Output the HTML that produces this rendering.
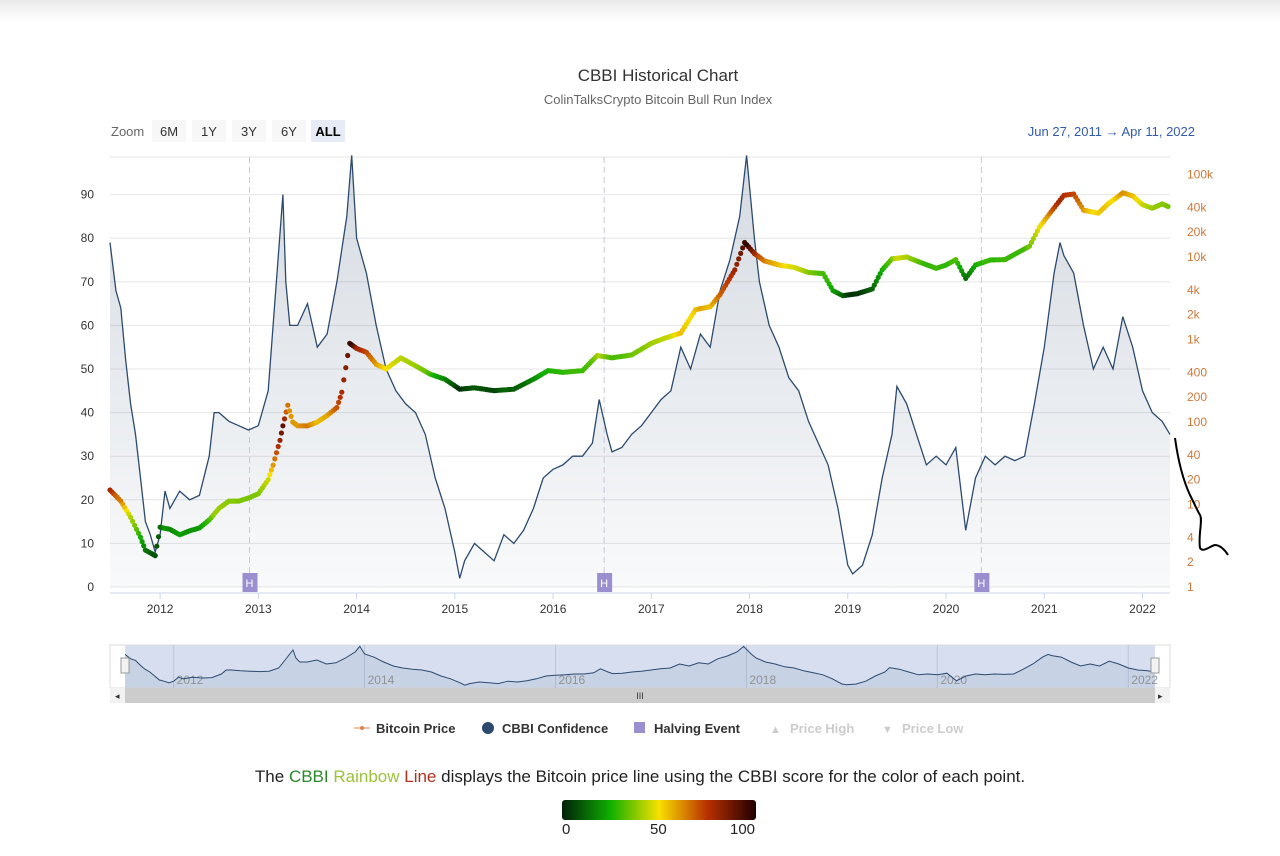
<!DOCTYPE html>
<html><head><meta charset="utf-8">
<style>
body{margin:0;width:1280px;height:856px;background:#fff;font-family:"Liberation Sans",sans-serif;overflow:hidden;position:relative}
.topshade{position:absolute;left:0;top:0;width:1280px;height:22px;background:linear-gradient(#e9e9e9,#fff)}
.caption{position:absolute;top:767px;left:0;width:1280px;text-align:center;font-size:17px;color:#222}
.bar{position:absolute;left:562px;top:800px;width:194px;height:20px;border-radius:3px;background:linear-gradient(90deg,#00200a,#10b000 25%,#f8e000 50%,#b83000 75%,#200000)}
.lbl{position:absolute;top:821px;font-size:15px;color:#222}
</style></head><body>
<div class="topshade"></div>
<svg id="chart" width="1280" height="760" style="position:absolute;left:0;top:0" font-family="Liberation Sans, sans-serif">
<text x="658" y="81" text-anchor="middle" font-size="17" fill="#333">CBBI Historical Chart</text>
<text x="658" y="104" text-anchor="middle" font-size="13" fill="#666">ColinTalksCrypto Bitcoin Bull Run Index</text>
<text x="111" y="136" font-size="13" fill="#666">Zoom</text>
<g><rect x="152" y="120" width="34" height="22" fill="#f7f7f7"/><text x="169" y="136" text-anchor="middle" font-size="13" fill="#333">6M</text></g>
<g><rect x="192" y="120" width="34" height="22" fill="#f7f7f7"/><text x="209" y="136" text-anchor="middle" font-size="13" fill="#333">1Y</text></g>
<g><rect x="232" y="120" width="34" height="22" fill="#f7f7f7"/><text x="249" y="136" text-anchor="middle" font-size="13" fill="#333">3Y</text></g>
<g><rect x="272" y="120" width="34" height="22" fill="#f7f7f7"/><text x="289" y="136" text-anchor="middle" font-size="13" fill="#333">6Y</text></g>
<g><rect x="311" y="120" width="34" height="22" fill="#e6ebf5"/><text x="328" y="136" text-anchor="middle" font-size="13" font-weight="bold" fill="#000">ALL</text></g>
<text x="1195" y="136" text-anchor="end" font-size="13" fill="#335cad">Jun 27, 2011  →  Apr 11, 2022</text>
<g id="g"></g>
<path d="M1175,438 C1178,460 1183,480 1190,495 C1195,505 1198,512 1200,515 C1203,520 1198,535 1200,548 C1203,553 1210,546 1215,545 C1220,545 1225,550 1228,555" fill="none" stroke="#000" stroke-width="2"/>
<g>
<g><line x1="354" y1="728" x2="370" y2="728" stroke="#e08050"/><circle cx="362" cy="728" r="2" fill="#e08050"/><text x="376" y="733" font-size="13" font-weight="bold" fill="#333">Bitcoin Price</text></g>
<g><circle cx="488" cy="728" r="6" fill="#2c4a6e"/><text x="502" y="733" font-size="13" font-weight="bold" fill="#333">CBBI Confidence</text></g>
<g><rect x="634" y="722" width="11" height="11" fill="#9b8fd0"/><text x="654" y="733" font-size="13" font-weight="bold" fill="#333">Halving Event</text></g>
<g><text x="770" y="733" font-size="11" fill="#ccc">▲</text><text x="790" y="733" font-size="13" font-weight="bold" fill="#ccc">Price High</text></g>
<g><text x="882" y="733" font-size="11" fill="#ccc">▼</text><text x="902" y="733" font-size="13" font-weight="bold" fill="#ccc">Price Low</text></g>
</g>
</svg>
<div class="caption">The <span style="color:#2a8a2a">CBBI</span> <span style="color:#9cc23a">Rainbow</span> <span style="color:#b03020">Line</span> displays the Bitcoin price line using the CBBI score for the color of each point.</div>
<div class="bar"></div>
<div class="lbl" style="left:562px">0</div>
<div class="lbl" style="left:650px">50</div>
<div class="lbl" style="left:730px">100</div>
<script>
const cbbiDates=[
2011.49,2011.55,2011.6,2011.65,2011.7,2011.75,2011.8,2011.85,2011.9,2011.95,
2012.0,2012.05,2012.1,2012.2,2012.3,2012.4,2012.5,2012.55,2012.6,2012.7,2012.8,2012.9,
2013.0,2013.1,2013.15,2013.2,2013.25,2013.28,2013.32,2013.4,2013.5,2013.6,2013.7,2013.8,2013.9,2013.95,
2014.0,2014.1,2014.2,2014.3,2014.4,2014.5,2014.6,2014.7,2014.8,2014.9,
2015.0,2015.05,2015.1,2015.2,2015.3,2015.4,2015.5,2015.6,2015.7,2015.8,2015.9,
2016.0,2016.1,2016.2,2016.3,2016.4,2016.47,2016.55,2016.6,2016.7,2016.8,2016.9,
2017.0,2017.1,2017.2,2017.3,2017.4,2017.5,2017.6,2017.7,2017.8,2017.9,2017.97,
2018.05,2018.1,2018.2,2018.3,2018.4,2018.5,2018.6,2018.7,2018.8,2018.9,
2019.0,2019.05,2019.15,2019.25,2019.35,2019.45,2019.5,2019.6,2019.7,2019.8,2019.9,
2020.0,2020.1,2020.2,2020.3,2020.4,2020.5,2020.6,2020.7,2020.8,2020.9,
2021.0,2021.1,2021.16,2021.2,2021.3,2021.4,2021.5,2021.6,2021.7,2021.8,2021.9,
2022.0,2022.1,2022.2,2022.28];
const cbbiValues=[
79,68,64,52,42,35,25,15,12,8,
12,22,18,22,20,21,30,40,40,38,37,36,
37,45,60,75,90,70,60,60,65,55,58,70,85,99,
80,72,60,50,45,42,40,35,25,18,
8,2,6,10,8,6,12,10,13,18,25,
27,28,30,30,33,43,35,31,32,35,37,
40,43,45,55,50,58,55,68,75,85,99,
80,70,60,55,48,45,38,33,28,18,
5,3,5,12,25,35,46,42,35,28,30,
28,32,13,25,30,28,30,29,30,42,
55,72,79,76,72,60,50,55,50,62,55,
45,40,38,35];
const priceDates=[2011.49,2011.6,2011.7,2011.8,2011.85,2011.95,2012.0,2012.1,2012.2,2012.3,2012.4,2012.5,2012.6,2012.7,2012.8,2012.9,2013.0,2013.1,2013.15,2013.22,2013.25,2013.3,2013.35,2013.4,2013.5,2013.6,2013.7,2013.8,2013.85,2013.93,2014.0,2014.1,2014.2,2014.3,2014.45,2014.6,2014.75,2014.9,2015.05,2015.2,2015.4,2015.6,2015.8,2015.95,2016.1,2016.3,2016.45,2016.6,2016.8,2017.0,2017.15,2017.3,2017.45,2017.6,2017.7,2017.85,2017.95,2018.05,2018.15,2018.3,2018.45,2018.6,2018.75,2018.85,2018.95,2019.1,2019.25,2019.35,2019.45,2019.6,2019.75,2019.9,2020.0,2020.1,2020.2,2020.3,2020.45,2020.6,2020.7,2020.85,2020.95,2021.05,2021.2,2021.3,2021.4,2021.55,2021.65,2021.8,2021.9,2022.0,2022.1,2022.2,2022.28];
const priceValues=[15,11,7,4,2.8,2.4,5.3,5,4.3,4.8,5.2,6.5,9,11,11,12,13.5,20,30,60,90,160,100,90,90,100,120,150,230,900,780,700,500,440,600,480,380,330,250,260,240,250,330,420,400,420,640,600,650,900,1050,1200,2300,2500,3500,7000,15000,11000,9000,8000,7500,6500,6300,3900,3400,3600,4100,7000,9500,10000,8500,7300,8000,9300,5500,8000,9200,9300,10800,13500,23000,33000,56000,58000,37000,34000,44000,60000,55000,43000,39000,44000,40000];
const halvings=[2012.91,2016.52,2020.36];
const leftTicks=[0,10,20,30,40,50,60,70,80,90];
const rightTicks=[1,2,4,10,20,40,100,200,400,1000,2000,4000,10000,20000,40000,100000];
const rightLabels=['1','2','4','10','20','40','100','200','400','1k','2k','4k','10k','20k','40k','100k'];
const years=[2012,2013,2014,2015,2016,2017,2018,2019,2020,2021,2022];

const X0=110,X1=1170,T0=2011.49,T1=2022.28,YB=587;
const xS=t=>X0+(t-T0)/(T1-T0)*(X1-X0);
const yL=v=>YB-v*4.36;
const yR=p=>YB-82.5*Math.log10(p);
const NX0=125,NX1=1155,nx=t=>NX0+(t-T0)/(T1-T0)*(NX1-NX0),ny=v=>686-v*0.4;
const g=document.getElementById('g');const NS='http://www.w3.org/2000/svg';
function mk(tag,at,parent){const e=document.createElementNS(NS,tag);for(const k in at)e.setAttribute(k,at[k]);(parent||g).appendChild(e);return e;}
const NC=Math.min(cbbiDates.length,cbbiValues.length);
function cbbiAt(t){for(let i=1;i<NC;i++){if(t<=cbbiDates[i]){const a=cbbiDates[i-1],b=cbbiDates[i];const f=(t-a)/(b-a);return cbbiValues[i-1]+f*(cbbiValues[i]-cbbiValues[i-1]);}}return cbbiValues[NC-1];}
const stops=[[0,[0,32,10]],[25,[16,176,0]],[50,[248,224,0]],[75,[184,48,0]],[100,[32,0,0]]];
function col(v){v=Math.max(0,Math.min(100,v));for(let i=1;i<stops.length;i++){if(v<=stops[i][0]){const f=(v-stops[i-1][0])/25;const c=stops[i-1][1].map((a,j)=>Math.round(a+f*(stops[i][1][j]-a)));return `rgb(${c})`;}}}
leftTicks.forEach(v=>{const l=mk('line',{x1:X0,x2:X1,y1:yL(v),y2:yL(v),stroke:'#e6e6e6'});
const t=mk('text',{x:94,y:yL(v)+4,'text-anchor':'end','font-size':12,fill:'#333'});t.textContent=v;});
mk('line',{x1:X0,x2:X1,y1:157,y2:157,stroke:'#e6e6e6'});
rightTicks.forEach((p,i)=>{const t=mk('text',{x:1187,y:yR(p)+4,'font-size':12,fill:'#d0783a'});t.textContent=rightLabels[i];});
years.forEach(y=>{const x=xS(y);mk('line',{x1:x,x2:x,y1:YB+6,y2:YB+12,stroke:'#ccd6eb'});const t=mk('text',{x:x,y:613,'text-anchor':'middle','font-size':12,fill:'#333'});t.textContent=y;});
mk('line',{x1:X0,x2:X1,y1:YB+6,y2:YB+6,stroke:'#ccd6eb'});
const defs=mk('defs',{});const lg=mk('linearGradient',{id:'ag',x1:0,y1:0,x2:0,y2:1},defs);mk('stop',{offset:0,'stop-color':'#2c4a6e','stop-opacity':0.2},lg);mk('stop',{offset:1,'stop-color':'#2c4a6e','stop-opacity':0.03},lg);
let pts=[];for(let i=0;i<NC;i++)pts.push(xS(cbbiDates[i]).toFixed(1)+','+yL(cbbiValues[i]).toFixed(1));
const d='M'+pts.join(' L');
const lastX=xS(cbbiDates[NC-1]).toFixed(1);
const ar=mk('path',{d:d+` L${lastX},${YB} L${X0},${YB} Z`,fill:'url(#ag)'});
halvings.forEach(h=>{const x=xS(h);mk('line',{x1:x,x2:x,y1:157,y2:YB,stroke:'#c8c8d8','stroke-dasharray':'6,4'});const r=mk('rect',{x:x-7,y:573,width:15,height:19,fill:'#9b8fd0'});const t=mk('text',{x:x,y:587,'text-anchor':'middle','font-size':11,fill:'#fff'});t.textContent='H';});
const ln=mk('path',{d:d,fill:'none',stroke:'#2c4a6e','stroke-width':1.3});
for(let i=1;i<priceDates.length;i++){const t0=priceDates[i-1],t1=priceDates[i];const n=Math.max(2,Math.ceil((xS(t1)-xS(t0))/2));
for(let k=0;k<n;k++){const f=k/n;const t=t0+f*(t1-t0);const lp=Math.log10(priceValues[i-1])+f*(Math.log10(priceValues[i])-Math.log10(priceValues[i-1]));
const c=mk('circle',{cx:xS(t).toFixed(1),cy:yR(Math.pow(10,lp)).toFixed(1),r:2.6,fill:col(cbbiAt(t))});}}
const nav=mk('rect',{x:NX0,y:645,width:NX1-NX0,height:43,fill:'#ccd6eb',opacity:0.8});
mk('rect',{x:110,y:645,width:1060,height:43,fill:'none',stroke:'#ddd'});
[2012,2014,2016,2018,2020,2022].forEach(y=>{const x=nx(y);mk('line',{x1:x,x2:x,y1:645,y2:688,stroke:'#bcc6dc'});const t=mk('text',{x:x+3,y:684,'font-size':12,fill:'#999'});t.textContent=y;});
let npts=[];for(let i=0;i<NC;i++)npts.push(nx(cbbiDates[i]).toFixed(1)+','+ny(cbbiValues[i]).toFixed(1));
const nd='M'+npts.join(' L');
mk('path',{d:nd+` L${nx(cbbiDates[NC-1])},688 L${NX0},688 Z`,fill:'#2c4a6e','fill-opacity':0.08});
const nl=mk('path',{d:nd,fill:'none',stroke:'#2c4a6e','stroke-width':1});
[NX0-4,NX1-4].forEach(x=>{const h=mk('rect',{x:x,y:658,width:8,height:15,fill:'#f2f2f2',stroke:'#999'});});
const sb=mk('rect',{x:110,y:688,width:1060,height:15,fill:'#f2f2f2'});
mk('rect',{x:125,y:688,width:1030,height:15,fill:'#ccc'});
mk('text',{x:115,y:699,'font-size':9,fill:'#333'}).textContent='◂';
mk('text',{x:1158,y:699,'font-size':9,fill:'#333'}).textContent='▸';
mk('text',{x:640,y:699,'font-size':9,fill:'#333','text-anchor':'middle'}).textContent='III';
</script>
</body></html>
